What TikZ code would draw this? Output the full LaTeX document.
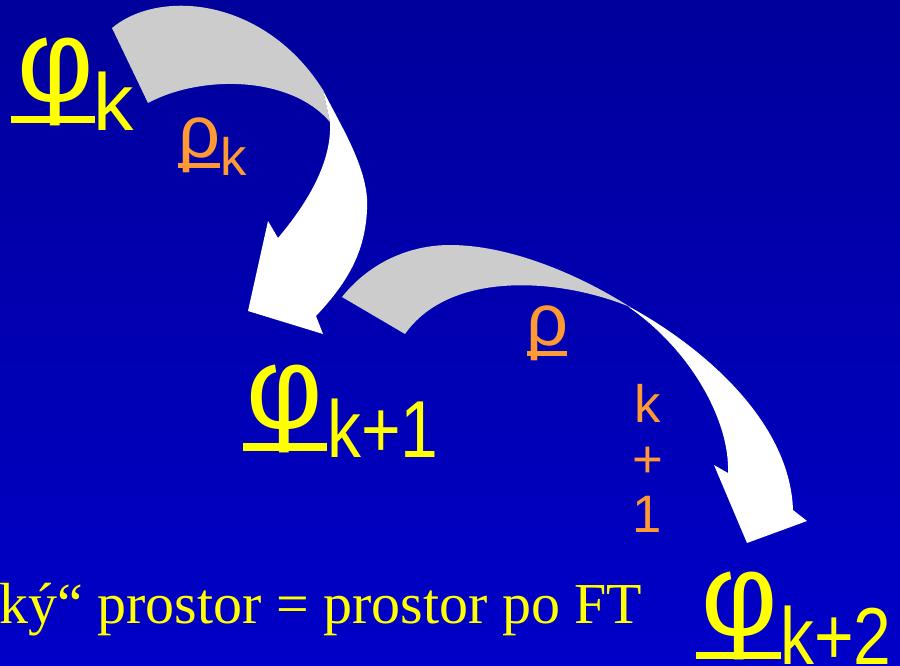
\documentclass[tikz,border=0pt]{standalone}
\usepackage{fontspec}
\setmainfont{Liberation Serif}
\newfontfamily\arialfont{Liberation Sans}
\usepackage{tikz}
\usetikzlibrary{positioning}
\definecolor{bgtop}{RGB}{0, 0, 155}
\definecolor{bgbottom}{RGB}{0, 0, 200}
\definecolor{phicol}{RGB}{255, 255, 0}
\definecolor{rhocol}{RGB}{255, 153, 51}
\definecolor{backside}{RGB}{204, 204, 204}
\tikzset{
	phisymb/.style={text=phicol, inner sep=0pt, font=\arialfont\fontsize{67}{67}\selectfont},
	phisub/.style={text=phicol, inner sep=0pt, font=\arialfont\fontsize{46}{46}\selectfont},
	rhosymb/.style={text=rhocol, inner sep=0pt, font=\arialfont\fontsize{42}{42}\selectfont},
	rhosub/.style={text=rhocol, inner sep=0pt, font=\arialfont\fontsize{30}{30}\selectfont},
}
\newcommand{\narrowsub}[1]{\scalebox{0.84}[1]{#1}}

\begin{document}
\begin{tikzpicture}[x=0.02cm, y=-0.02cm]
				\shade[top color=bgtop, bottom color=bgbottom] (0,0) rectangle (900,666);
				\useasboundingbox (0,0) rectangle (900,666);
				
				% first arrow: back side, then front with head
				\fill[backside] (112,28) .. controls (160,-12) and (265,-2) .. (323,90) -- (330,122) .. controls (290,75) and (200,75) .. (148,103) -- cycle;
				\fill[white] (323,90) .. controls (340,125) and (370,170) .. (367,210) .. controls (365,250) and (350,280) .. (316,316) -- (323,334) -- (248,311) -- (268,221) -- (278,238) .. controls (310,200) and (332,160) .. (330,122) -- cycle;
				
				% second arrow
				\fill[backside] (342,297) .. controls (370,262) and (410,245) .. (450,245) .. controls (510,245) and (580,275) .. (630,307) .. controls (560,278) and (450,270) .. (405,334) -- cycle;
				\fill[white] (628,306) .. controls (700,345) and (790,420) .. (793,510) -- (807,521) -- (747,543) -- (714,465) -- (728,473) .. controls (730,420) and (690,350) .. (630,308) -- cycle;
				
				\node[phisymb] (phik) at (56,81.5) {φ};
				\node[phisub, anchor=base west] (phiksub) at (93,130) {k};
				\fill[phicol] (11,115.5) rectangle (95,123);
				
				\node[rhosymb] (rhok) at (199,145.5) {ρ};
				\node[rhosub] (rhoksub) at (233.5,156) {k};
				\fill[rhocol] (178,163) rectangle (220,168);
				
				\node[phisymb] (phikk) at (285,408.5) {φ};
				\node[phisub, anchor=base west] (phikksub) at (327,457) {\narrowsub{k+1}};
				\fill[phicol] (243,443) rectangle (327,451);
				
				\node[rhosymb] (rhokk) at (547.5,333.5) {ρ};
				\fill[rhocol] (527,351) rectangle (567,355.5);
				\node[rhosub] (rhokkk) at (648,403.5) {k};
				\node[rhosub] (rhokkplus) at (647.5,462.5) {+};
				\node[rhosub] (rhokkone) at (647.5,514) {1};
				
				\node[phisymb] (phikkk) at (739.5,616) {φ};
				\node[phisub, anchor=base west] (phikkksub) at (780,664) {\narrowsub{k+2}};
				\fill[phicol] (696,652) rectangle (781,659);
				
				\node[text=phicol, inner sep=0pt, anchor=base west, font=\fontsize{33}{34}\selectfont] (ftspace) at (-1,623) {ký“ prostor = prostor po FT};
			\end{tikzpicture}
\end{document}
